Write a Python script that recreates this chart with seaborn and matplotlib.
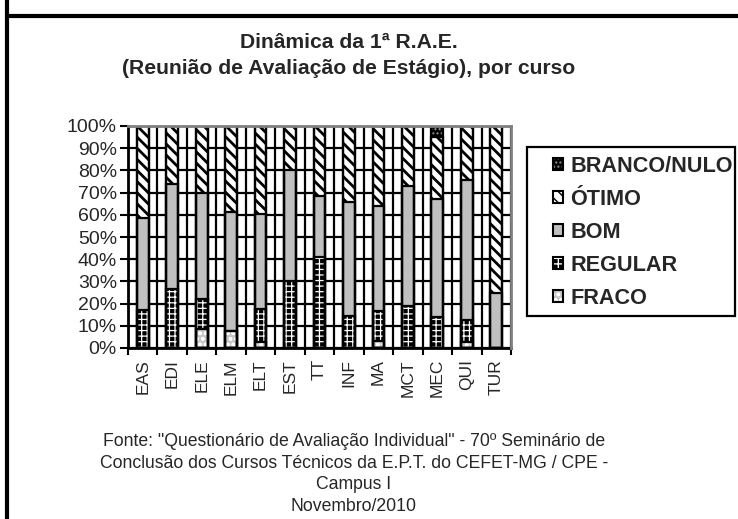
import numpy as np
import matplotlib
matplotlib.use("Agg")
import matplotlib.pyplot as plt
from matplotlib.patches import Patch, Rectangle
from matplotlib.lines import Line2D
from matplotlib.legend_handler import HandlerTuple
import seaborn as sns

courses = ['EAS', 'EDI', 'ELE', 'ELM', 'ELT', 'EST', 'TT', 'INF', 'MA', 'MCT', 'MEC', 'QUI', 'TUR']
fraco   = [0.0, 0.0, 8.5, 7.8, 2.5, 0.0, 0.0, 0.0, 3.3, 0.0, 0.0, 2.5, 0.0]
regular = [17.2, 26.6, 13.5, 0.0, 15.0, 30.0, 41.2, 14.2, 13.5, 18.7, 13.8, 10.2, 0.0]
bom     = [41.5, 47.2, 47.6, 53.6, 42.7, 50.0, 27.4, 51.4, 47.1, 54.3, 53.2, 62.9, 25.0]
otimo   = [41.3, 26.2, 30.4, 38.6, 39.8, 20.0, 31.4, 34.4, 36.1, 27.0, 28.0, 24.4, 75.0]
branco  = [0.0, 0.0, 0.0, 0.0, 0.0, 0.0, 0.0, 0.0, 0.0, 0.0, 5.0, 0.0, 0.0]
series_names = ['FRACO', 'REGULAR', 'BOM', 'ÓTIMO', 'BRANCO/NULO']
y_ticks = [0, 10, 20, 30, 40, 50, 60, 70, 80, 90, 100]
y_tick_labels = ['0%', '10%', '20%', '30%', '40%', '50%', '60%', '70%', '80%', '90%', '100%']

title = "Dinâmica da 1ª R.A.E.\n(Reunião de Avaliação de Estágio), por curso"
footnote = ('Fonte: "Questionário de Avaliação Individual" - 70º Seminário de\n'
            'Conclusão dos Cursos Técnicos da E.P.T. do CEFET-MG / CPE -\n'
            'Campus I\nNovembro/2010')

sns.set_theme(style="white")
plt.rcParams['font.family'] = ['Liberation Sans', 'DejaVu Sans']

# styles: (face, hatch color, hatch, hatch linewidth)
styles = {
    'FRACO': ('#c8c8c8', 'white', 'ooo', 1.0),
    'REGULAR': ('black', 'white', '+++', 0.9),
    'BOM': ('#c0c0c0', '#c0c0c0', None, 1.0),
    'ÓTIMO': ('white', 'black', '\\\\\\', 2.0),
    'BRANCO/NULO': ('black', '#909090', '....', 1.0),
}

fig = plt.figure(figsize=(7.38, 5.19), dpi=100)
ax = fig.add_axes([128/738, 1-348/519, 383/738, 222/519])

data = np.array([fraco, regular, bom, otimo, branco])
cum = np.cumsum(data, axis=0)
W = 0.4

# draw tallest cumulative first
for i in range(len(series_names)-1, -1, -1):
    name = series_names[i]
    face, hcol, hatch, hlw = styles[name]
    plt.rcParams['hatch.linewidth'] = hlw
    sns.barplot(x=courses, y=cum[i], ax=ax, width=W, color=face, saturation=1,
                edgecolor=hcol, linewidth=0, hatch=hatch, zorder=3)
for i in range(len(series_names)-1, -1, -1):
    sns.barplot(x=courses, y=cum[i], ax=ax, width=W, fill=False, color='black',
                linewidth=1.6, zorder=4)

ax.set_ylim(0, 100)
ax.set_xlim(-0.5, len(courses)-0.5)
ax.set_yticks(y_ticks)
ax.set_yticklabels(y_tick_labels, fontsize=14)
ax.set_xticks(range(len(courses)))
ax.set_xticklabels(courses, rotation=90, fontsize=12.5)
ax.set_xticks(np.arange(-0.5, len(courses)), minor=True)
ax.tick_params(axis='x', which='major', length=0, pad=8)
ax.tick_params(axis='x', which='minor', length=5, width=1.5, color='black', direction='out', bottom=True)
ax.tick_params(axis='y', length=6, width=1.5, color='black', direction='out', left=True, pad=2)
for v in y_ticks:
    ax.axhline(v, color='black', lw=1.6, zorder=1)
for v in np.arange(-0.5, len(courses)):
    ax.axvline(v, color='black', lw=1.6, zorder=1)
ax.set_xlabel('')
ax.set_ylabel('')
for s in ['left', 'bottom']:
    ax.spines[s].set_color('black')
    ax.spines[s].set_linewidth(2)
for s in ['top', 'right']:
    ax.spines[s].set_color('#808080')
    ax.spines[s].set_linewidth(2)
    ax.spines[s].set_zorder(5)

# legend
order = ['BRANCO/NULO', 'ÓTIMO', 'BOM', 'REGULAR', 'FRACO']
handles = []
for name in order:
    face, hcol, hatch, hlw = styles[name]
    plt.rcParams['hatch.linewidth'] = hlw
    h1 = Patch(facecolor=face, edgecolor=hcol, hatch=hatch, linewidth=0)
    h2 = Patch(facecolor='none', edgecolor='black', linewidth=1.5)
    handles.append((h1, h2))
leg = fig.legend(handles, order, handler_map={tuple: HandlerTuple(ndivide=1, pad=0)},
                 loc='upper left', bbox_to_anchor=(553/738, 1-156/519),
                 bbox_transform=fig.transFigure,
                 prop={'weight': 'bold', 'size': 15.6}, frameon=False,
                 handlelength=0.45, handleheight=0.45, handletextpad=0.35,
                 labelspacing=0.55, borderpad=0.0, borderaxespad=0)
fig.add_artist(Rectangle((527/738, 1-316/519), 208/738, 169/519, transform=fig.transFigure,
                         facecolor='none', edgecolor='black', linewidth=1.6))

fig.text(349/738, 1-55.5/519, title, ha='center', va='center', fontsize=15.2,
         fontweight='bold', linespacing=1.5)
fig.text(354/738, 1-474/519, footnote, ha='center', va='center', fontsize=12.7,
         linespacing=1.37)

fig.add_artist(Line2D([7/738, 7/738], [0, 1], color='black', lw=3, transform=fig.transFigure))
fig.add_artist(Line2D([7/738, 1], [1-16/519, 1-16/519], color='black', lw=3, transform=fig.transFigure))

fig.savefig('out.png', dpi=100)
